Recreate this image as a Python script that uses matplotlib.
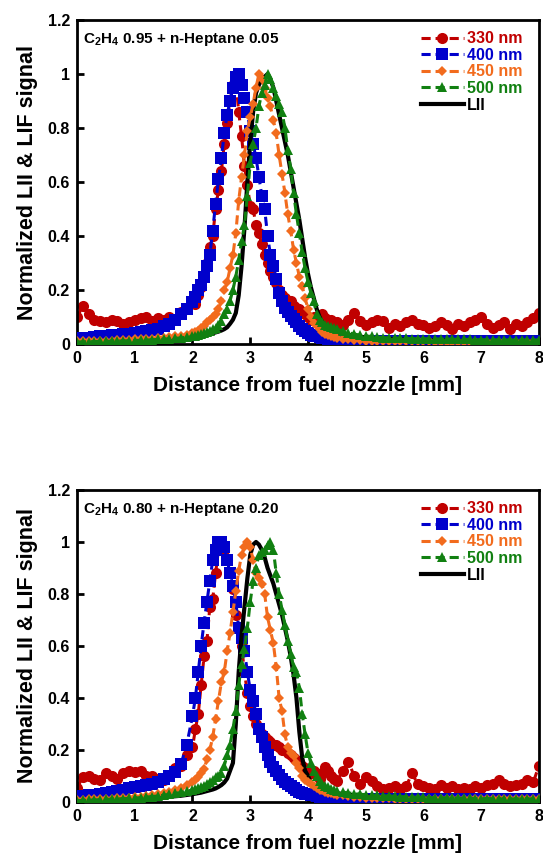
import numpy as np
import matplotlib
matplotlib.use("Agg")
import matplotlib.pyplot as plt
from matplotlib.ticker import FuncFormatter

plt.rcParams['font.family'] = ['Liberation Sans', 'DejaVu Sans']
plt.rcParams['font.weight'] = 'bold'
plt.rcParams['mathtext.fontset'] = 'custom'
plt.rcParams['mathtext.rm'] = 'Liberation Sans:bold'
plt.rcParams['mathtext.bf'] = 'Liberation Sans:bold'

# sample positions [mm]: coarse in the tails, finer across the peak
x_mm = np.round(np.concatenate([np.linspace(0, 1.9, 20),
                                np.linspace(2.0, 4.45, 50),
                                np.linspace(4.5, 8.0, 36)]), 2)

labels = ['330 nm', '400 nm', '450 nm', '500 nm', 'LII']

# ---- panel 1: C2H4 0.95 + n-Heptane 0.05 ----
a_330 = [0.10, 0.14, 0.11, 0.09, 0.085, 0.08, 0.09, 0.085, 0.075, 0.08,
         0.09, 0.095, 0.10, 0.085, 0.095, 0.09, 0.10, 0.09, 0.12, 0.13,
         0.16, 0.15, 0.18, 0.21, 0.25, 0.30, 0.36, 0.40, 0.50, 0.57,
         0.64, 0.74, 0.82, 0.90, 0.96, 0.98, 0.86, 0.77, 0.66, 0.59,
         0.51, 0.50, 0.44, 0.41, 0.37, 0.33, 0.30, 0.27, 0.25, 0.225,
         0.20, 0.18, 0.17, 0.16, 0.16, 0.14, 0.135, 0.13, 0.12, 0.11,
         0.10, 0.09, 0.10, 0.085, 0.09, 0.11, 0.095, 0.08, 0.09, 0.075,
         0.08, 0.07, 0.09, 0.115, 0.085, 0.07, 0.08, 0.09, 0.085, 0.06,
         0.075, 0.065, 0.08, 0.09, 0.075, 0.07, 0.06, 0.065, 0.08, 0.07,
         0.055, 0.075, 0.065, 0.08, 0.09, 0.10, 0.075, 0.06, 0.07, 0.08,
         0.055, 0.075, 0.065, 0.08, 0.095, 0.115]
a_400 = [0.02, 0.022, 0.024, 0.026, 0.028, 0.03, 0.032, 0.034, 0.036, 0.038,
         0.04, 0.043, 0.047, 0.051, 0.057, 0.065, 0.075, 0.09, 0.11, 0.13,
         0.155, 0.175, 0.20, 0.22, 0.25, 0.29, 0.33, 0.42, 0.52, 0.61,
         0.69, 0.78, 0.85, 0.90, 0.95, 0.99, 1.0, 0.96, 0.91, 0.86,
         0.79, 0.74, 0.69, 0.62, 0.55, 0.50, 0.40, 0.33, 0.29, 0.24,
         0.19, 0.16, 0.135, 0.12, 0.105, 0.092, 0.08, 0.068, 0.057, 0.047,
         0.04, 0.035, 0.031, 0.028, 0.025, 0.023, 0.021, 0.02, 0.019, 0.018,
         0.017, 0.015, 0.014, 0.013, 0.012, 0.011, 0.011, 0.01, 0.01, 0.01,
         0.01, 0.01, 0.01, 0.01, 0.01, 0.01, 0.01, 0.01, 0.01, 0.01,
         0.01, 0.01, 0.01, 0.01, 0.01, 0.01, 0.01, 0.01, 0.01, 0.01,
         0.01, 0.01, 0.01, 0.01, 0.01, 0.01]
a_450 = [0.01, 0.01, 0.01, 0.011, 0.012, 0.012, 0.013, 0.014, 0.015, 0.016,
         0.017, 0.018, 0.019, 0.02, 0.022, 0.024, 0.026, 0.028, 0.03, 0.035,
         0.04, 0.045, 0.05, 0.06, 0.068, 0.08, 0.09, 0.10, 0.11, 0.13,
         0.16, 0.20, 0.23, 0.28, 0.33, 0.41, 0.53, 0.62, 0.70, 0.79,
         0.84, 0.89, 0.95, 1.0, 0.98, 0.95, 0.91, 0.88, 0.83, 0.78,
         0.70, 0.63, 0.56, 0.48, 0.42, 0.35, 0.30, 0.25, 0.215, 0.17,
         0.13, 0.10, 0.078, 0.065, 0.055, 0.045, 0.038, 0.032, 0.028, 0.025,
         0.022, 0.019, 0.017, 0.015, 0.014, 0.013, 0.012, 0.012, 0.011, 0.011,
         0.01, 0.01, 0.01, 0.01, 0.01, 0.01, 0.01, 0.009, 0.009, 0.009,
         0.009, 0.009, 0.009, 0.009, 0.009, 0.009, 0.008, 0.008, 0.008, 0.008,
         0.008, 0.008, 0.008, 0.008, 0.008, 0.008]
a_500 = [0.008, 0.008, 0.009, 0.009, 0.01, 0.01, 0.011, 0.011, 0.012, 0.012,
         0.013, 0.014, 0.015, 0.016, 0.017, 0.018, 0.02, 0.021, 0.023, 0.025,
         0.028, 0.03, 0.033, 0.036, 0.04, 0.045, 0.05, 0.055, 0.06, 0.07,
         0.085, 0.11, 0.13, 0.16, 0.20, 0.25, 0.31, 0.38, 0.44, 0.55,
         0.67, 0.74, 0.80, 0.88, 0.93, 0.96, 1.0, 0.98, 0.95, 0.92,
         0.89, 0.86, 0.80, 0.72, 0.65, 0.56, 0.48, 0.41, 0.34, 0.28,
         0.23, 0.19, 0.16, 0.11, 0.09, 0.08, 0.072, 0.066, 0.062, 0.058,
         0.055, 0.048, 0.042, 0.037, 0.033, 0.03, 0.028, 0.026, 0.024, 0.023,
         0.022, 0.021, 0.021, 0.02, 0.02, 0.02, 0.019, 0.019, 0.018, 0.018,
         0.018, 0.017, 0.017, 0.017, 0.016, 0.016, 0.016, 0.016, 0.015, 0.015,
         0.015, 0.015, 0.015, 0.015, 0.015, 0.015]
a_lii = [0.005, 0.005, 0.006, 0.006, 0.007, 0.007, 0.008, 0.008, 0.009, 0.01,
         0.01, 0.011, 0.012, 0.013, 0.014, 0.015, 0.016, 0.018, 0.02, 0.022,
         0.024, 0.026, 0.028, 0.03, 0.032, 0.035, 0.037, 0.04, 0.043, 0.046,
         0.05, 0.055, 0.062, 0.075, 0.09, 0.115, 0.18, 0.29, 0.43, 0.60,
         0.75, 0.86, 0.93, 0.96, 0.98, 0.99, 1.0, 0.98, 0.95, 0.90,
         0.85, 0.80, 0.75, 0.70, 0.64, 0.58, 0.52, 0.46, 0.39, 0.32,
         0.26, 0.21, 0.17, 0.13, 0.10, 0.08, 0.065, 0.055, 0.05, 0.046,
         0.043, 0.038, 0.034, 0.03, 0.027, 0.025, 0.023, 0.021, 0.02, 0.019,
         0.018, 0.017, 0.016, 0.015, 0.015, 0.014, 0.014, 0.013, 0.013, 0.012,
         0.012, 0.012, 0.011, 0.011, 0.011, 0.011, 0.01, 0.01, 0.01, 0.01,
         0.01, 0.01, 0.01, 0.01, 0.01, 0.01]

# ---- panel 2: C2H4 0.80 + n-Heptane 0.20 ----
b_330 = [0.055, 0.095, 0.10, 0.09, 0.085, 0.11, 0.10, 0.09, 0.11, 0.12,
         0.115, 0.12, 0.10, 0.10, 0.09, 0.085, 0.10, 0.13, 0.14, 0.18,
         0.21, 0.28, 0.34, 0.45, 0.56, 0.62, 0.75, 0.78, 0.88, 0.97,
         0.99, 0.97, 0.93, 0.88, 0.82, 0.72, 0.67, 0.60, 0.50, 0.42,
         0.37, 0.33, 0.30, 0.28, 0.26, 0.25, 0.24, 0.23, 0.22, 0.22,
         0.21, 0.20, 0.20, 0.19, 0.18, 0.17, 0.16, 0.15, 0.14, 0.13,
         0.125, 0.11, 0.12, 0.10, 0.09, 0.11, 0.135, 0.12, 0.10, 0.09,
         0.08, 0.12, 0.155, 0.10, 0.07, 0.095, 0.08, 0.06, 0.05, 0.055,
         0.06, 0.05, 0.06, 0.11, 0.07, 0.06, 0.055, 0.05, 0.065, 0.055,
         0.06, 0.05, 0.055, 0.05, 0.06, 0.055, 0.065, 0.07, 0.085, 0.07,
         0.06, 0.065, 0.07, 0.085, 0.075, 0.14]
b_400 = [0.02, 0.022, 0.025, 0.028, 0.032, 0.036, 0.04, 0.044, 0.048, 0.052,
         0.056, 0.06, 0.065, 0.07, 0.078, 0.088, 0.10, 0.115, 0.145, 0.22,
         0.33, 0.40, 0.50, 0.60, 0.69, 0.77, 0.85, 0.93, 0.97, 1.0,
         1.0, 0.98, 0.93, 0.88, 0.83, 0.77, 0.67, 0.63, 0.58, 0.50,
         0.43, 0.39, 0.34, 0.28, 0.25, 0.21, 0.18, 0.155, 0.135, 0.12,
         0.105, 0.09, 0.078, 0.068, 0.06, 0.052, 0.046, 0.04, 0.036, 0.032,
         0.029, 0.027, 0.025, 0.022, 0.02, 0.018, 0.016, 0.015, 0.014, 0.013,
         0.012, 0.011, 0.01, 0.01, 0.01, 0.01, 0.01, 0.01, 0.01, 0.01,
         0.01, 0.01, 0.01, 0.01, 0.01, 0.01, 0.01, 0.01, 0.01, 0.01,
         0.01, 0.01, 0.01, 0.01, 0.01, 0.01, 0.01, 0.01, 0.01, 0.01,
         0.01, 0.01, 0.01, 0.01, 0.01, 0.01]
b_450 = [0.008, 0.009, 0.01, 0.01, 0.011, 0.012, 0.013, 0.014, 0.015, 0.016,
         0.018, 0.02, 0.022, 0.025, 0.03, 0.035, 0.04, 0.045, 0.055, 0.065,
         0.075, 0.085, 0.095, 0.11, 0.125, 0.165, 0.20, 0.25, 0.32, 0.39,
         0.46, 0.50, 0.58, 0.65, 0.73, 0.81, 0.89, 0.95, 0.98, 1.0,
         0.98, 0.93, 0.88, 0.86, 0.84, 0.80, 0.71, 0.66, 0.61, 0.52,
         0.40, 0.35, 0.26, 0.21, 0.19, 0.175, 0.15, 0.13, 0.10, 0.085,
         0.075, 0.068, 0.06, 0.054, 0.048, 0.045, 0.04, 0.036, 0.033, 0.03,
         0.028, 0.025, 0.022, 0.02, 0.018, 0.017, 0.016, 0.015, 0.014, 0.014,
         0.013, 0.013, 0.012, 0.012, 0.012, 0.011, 0.011, 0.011, 0.011, 0.01,
         0.01, 0.01, 0.01, 0.01, 0.01, 0.01, 0.01, 0.01, 0.01, 0.01,
         0.01, 0.01, 0.01, 0.01, 0.01, 0.01]
b_500 = [0.005, 0.006, 0.007, 0.008, 0.009, 0.01, 0.011, 0.012, 0.013, 0.014,
         0.015, 0.017, 0.019, 0.021, 0.023, 0.026, 0.03, 0.033, 0.037, 0.042,
         0.046, 0.05, 0.054, 0.058, 0.063, 0.07, 0.078, 0.085, 0.095, 0.10,
         0.11, 0.14, 0.18, 0.22, 0.28, 0.35, 0.45, 0.53, 0.59, 0.67,
         0.77, 0.85, 0.90, 0.95, 0.96, 0.97, 0.99, 1.0, 0.97, 0.88,
         0.80, 0.74, 0.68, 0.62, 0.57, 0.52, 0.50, 0.44, 0.34, 0.26,
         0.19, 0.15, 0.12, 0.10, 0.08, 0.07, 0.062, 0.056, 0.05, 0.046,
         0.043, 0.038, 0.035, 0.032, 0.03, 0.028, 0.026, 0.025, 0.024, 0.023,
         0.022, 0.021, 0.02, 0.019, 0.018, 0.018, 0.017, 0.016, 0.016, 0.015,
         0.015, 0.014, 0.014, 0.014, 0.013, 0.013, 0.013, 0.013, 0.012, 0.012,
         0.012, 0.012, 0.012, 0.012, 0.012, 0.012]
b_lii = [0.004, 0.005, 0.005, 0.006, 0.006, 0.007, 0.007, 0.008, 0.009, 0.01,
         0.011, 0.012, 0.013, 0.014, 0.016, 0.018, 0.02, 0.022, 0.024, 0.027,
         0.03, 0.032, 0.034, 0.036, 0.039, 0.042, 0.045, 0.048, 0.052, 0.058,
         0.065, 0.075, 0.09, 0.12, 0.15, 0.30, 0.50, 0.64, 0.75, 0.86,
         0.95, 0.99, 1.0, 0.99, 0.97, 0.94, 0.90, 0.87, 0.84, 0.80,
         0.76, 0.72, 0.67, 0.62, 0.56, 0.49, 0.40, 0.27, 0.17, 0.12,
         0.10, 0.075, 0.062, 0.055, 0.05, 0.046, 0.043, 0.04, 0.038, 0.036,
         0.034, 0.031, 0.028, 0.026, 0.024, 0.022, 0.02, 0.019, 0.018, 0.017,
         0.016, 0.015, 0.015, 0.014, 0.014, 0.013, 0.013, 0.012, 0.012, 0.012,
         0.011, 0.011, 0.011, 0.011, 0.01, 0.01, 0.01, 0.01, 0.01, 0.01,
         0.01, 0.01, 0.01, 0.01, 0.01, 0.01]

panels = [
    ('C$_2$H$_4$ 0.95 + n-Heptane 0.05', [a_330, a_400, a_450, a_500, a_lii]),
    ('C$_2$H$_4$ 0.80 + n-Heptane 0.20', [b_330, b_400, b_450, b_500, b_lii]),
]

colors = ['#C00000', '#0000CC', '#F26B1D', '#118011', 'black']
markers = ['o', 's', 'D', '^', None]
msizes = [8, 8, 5.5, 7, 0]
zorders = [2, 3, 5, 6, 4]
dash = (0, (3, 1.6))

fig = plt.figure(figsize=(5.43, 8.56), dpi=100)
rects = [[0.1418, 0.5981, 0.8508, 0.3785],
         [0.1418, 0.0631, 0.8508, 0.3645]]

for rect, (title, series) in zip(rects, panels):
    ax = fig.add_axes(rect)
    for ys, lab, c, m, ms, z in zip(series, labels, colors, markers, msizes, zorders):
        if m is None:
            ax.plot(x_mm, ys, color=c, lw=3, label=lab, zorder=z)
        else:
            ax.plot(x_mm, ys, color=c, lw=2.2, linestyle=dash, marker=m,
                    markersize=ms, markeredgewidth=0, label=lab, zorder=z)
    ax.set_xlim(0, 8)
    ax.set_ylim(0, 1.2)
    ax.set_xticks(range(0, 9))
    ax.set_yticks([0, 0.2, 0.4, 0.6, 0.8, 1.0, 1.2])
    ax.yaxis.set_major_formatter(FuncFormatter(lambda v, p: '%g' % round(v, 1)))
    ax.tick_params(direction='in', length=5, width=2, labelsize=11.5, pad=5)
    for sp in ax.spines.values():
        sp.set_linewidth(2)
    ax.set_xlabel('Distance from fuel nozzle [mm]', fontsize=15, fontweight='bold', labelpad=7)
    ax.set_ylabel('Normalized LII & LIF signal', fontsize=15.5, fontweight='bold', labelpad=7)
    ax.text(0.013, 0.965, title, transform=ax.transAxes, fontsize=11,
            fontweight='bold', va='top', ha='left')
    leg = ax.legend(loc='upper right', bbox_to_anchor=(0.985, 0.995), frameon=False,
                    fontsize=11.5, handlelength=2.7, handletextpad=0.2,
                    labelspacing=0.1, numpoints=1, borderaxespad=0.2)
    for t, c in zip(leg.get_texts(), colors):
        t.set_color(c)
        t.set_fontweight('bold')

fig.savefig('out.png', dpi=100)
